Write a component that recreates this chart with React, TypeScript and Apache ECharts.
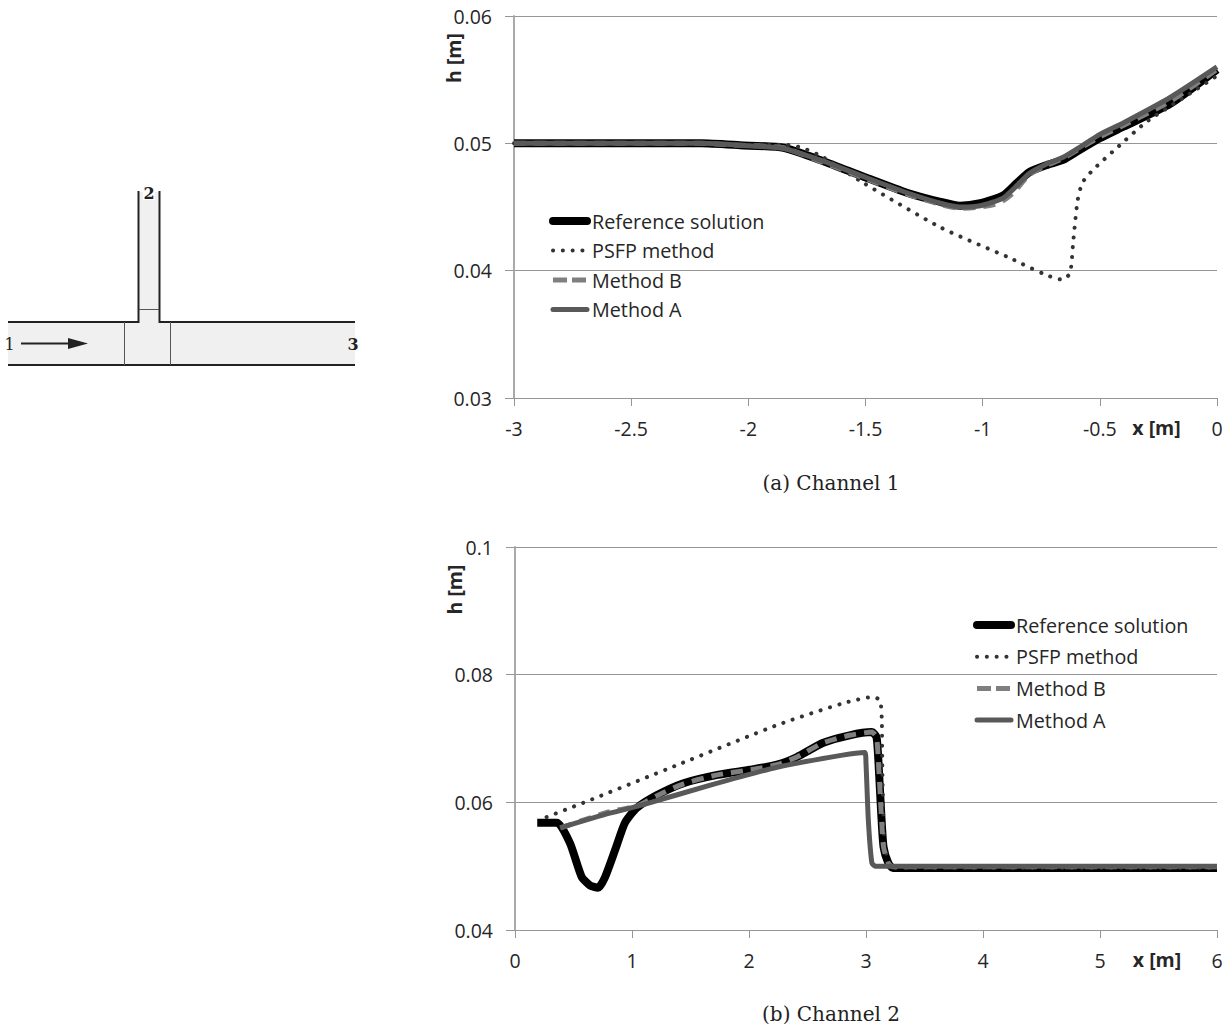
import React, { useEffect, useRef } from "react";
import * as echarts from "echarts";

const seriesNames = ["Reference solution", "PSFP method", "Method B", "Method A"];

const ch1Ref = [[-3, 0.05], [-2.5, 0.05], [-2.2, 0.05], [-2.035, 0.04985], [-1.85, 0.04965], [-1.68, 0.0486], [-1.51, 0.0474], [-1.32, 0.0461], [-1.18, 0.0454], [-1.097, 0.0451], [-1.01, 0.0453], [-0.913, 0.0459], [-0.853, 0.0469], [-0.8, 0.04775], [-0.725, 0.0483], [-0.657, 0.0487], [-0.585, 0.0495], [-0.5, 0.0504], [-0.4, 0.0513], [-0.2, 0.0531], [0, 0.0558]];
const ch1Psfp = [[-3, 0.05], [-2.5, 0.05], [-2.2, 0.05], [-2.035, 0.04985], [-1.85, 0.0499], [-1.77, 0.04965], [-1.68, 0.0489], [-1.51, 0.0469], [-1.18, 0.0434], [-0.896, 0.0411], [-0.66, 0.0393], [-0.627, 0.0398], [-0.614, 0.0422], [-0.606, 0.0437], [-0.595, 0.0455], [-0.575, 0.0469], [-0.53, 0.0479], [-0.43, 0.0496], [-0.3, 0.0517], [-0.15, 0.0535], [0, 0.0553]];
const ch1MethodB = [[-3, 0.05], [-2.5, 0.05], [-2.2, 0.05], [-2.035, 0.04985], [-1.85, 0.04965], [-1.68, 0.0485], [-1.51, 0.0473], [-1.32, 0.046], [-1.18, 0.0452], [-1.097, 0.0449], [-1.01, 0.045], [-0.93, 0.0453], [-0.87, 0.0461], [-0.8, 0.04755], [-0.725, 0.0483], [-0.657, 0.0488], [-0.585, 0.0496], [-0.5, 0.0505], [-0.4, 0.0514], [-0.2, 0.0533], [0, 0.0558]];
const ch1MethodA = [[-3, 0.05], [-2.5, 0.05], [-2.2, 0.05], [-2.035, 0.04985], [-1.85, 0.0496], [-1.68, 0.0486], [-1.51, 0.0474], [-1.32, 0.0461], [-1.18, 0.0453], [-1.097, 0.045], [-1.01, 0.0451], [-0.913, 0.0457], [-0.853, 0.0467], [-0.8, 0.04765], [-0.725, 0.0484], [-0.657, 0.0489], [-0.585, 0.0497], [-0.5, 0.0507], [-0.4, 0.0516], [-0.2, 0.0536], [0, 0.056]];

const ch2Ref = [[0.19, 0.0568], [0.36, 0.0568], [0.47, 0.0536], [0.57, 0.0483], [0.64, 0.047], [0.71, 0.0466], [0.77, 0.0483], [0.855, 0.0525], [0.94, 0.0568], [1.04, 0.0591], [1.21, 0.0611], [1.44, 0.063], [1.73, 0.0643], [2.01, 0.0651], [2.24, 0.0659], [2.41, 0.0671], [2.63, 0.0693], [2.86, 0.0705], [3.05, 0.071], [3.09, 0.0702], [3.11, 0.0651], [3.13, 0.0583], [3.15, 0.053], [3.19, 0.0505], [3.23, 0.0497], [4, 0.0497], [6, 0.0497]];
const ch2Psfp = [[0.27, 0.0577], [0.58, 0.0599], [1.38, 0.0658], [2.24, 0.0721], [2.8, 0.0755], [3.06, 0.0765], [3.12, 0.076], [3.135, 0.0729], [3.14, 0.0651], [3.155, 0.054], [3.19, 0.0505], [3.23, 0.0497], [4, 0.0497], [6, 0.0497]];
const ch2MethodB = [[0.39, 0.056], [0.8, 0.0585], [1.04, 0.0594], [1.21, 0.061], [1.44, 0.0629], [1.73, 0.0643], [2.01, 0.0651], [2.24, 0.0659], [2.41, 0.0671], [2.63, 0.0693], [2.86, 0.0705], [3.05, 0.071], [3.09, 0.0702], [3.11, 0.0651], [3.13, 0.0583], [3.15, 0.053], [3.19, 0.0505], [3.23, 0.0499], [4, 0.0499], [6, 0.0499]];
const ch2MethodA = [[0.385, 0.056], [0.81, 0.0583], [1.09, 0.0596], [1.67, 0.0627], [2.24, 0.0655], [2.8, 0.0674], [2.99, 0.0678], [3.0, 0.0661], [3.02, 0.0572], [3.05, 0.0505], [3.08, 0.05], [4, 0.05], [6, 0.05]];

const FONT = "Open Sans";
const TEXT = "#262626";
const GRIDC = "#969696";
const AXISC = "#aaaaaa";

const lineStyles = [
  { color: "#000000", width: 8, type: "solid", cap: "butt", join: "round" },
  { color: "#333333", width: 4, type: [0.1, 9.7], cap: "round", join: "round" },
  { color: "#7f7f7f", width: 5, type: [12, 8], cap: "butt", join: "round" },
  { color: "#595959", width: 5, type: "solid", cap: "butt", join: "round" },
];
const legendDash = [14, 5];

function makeSeries(index: number, data: number[][][]) {
  return seriesNames.map((name, i) => ({
    name,
    type: "line",
    xAxisIndex: index,
    yAxisIndex: index,
    data: data[i],
    showSymbol: false,
    symbol: "none",
    smooth: 0.2,
    itemStyle: { color: lineStyles[i].color },
    lineStyle: lineStyles[i],
    z: 2 + i,
  }));
}

function xAxis(gridIndex: number, min: number, max: number, interval: number) {
  return {
    type: "value",
    gridIndex,
    min,
    max,
    interval,
    name: "x [m]",
    nameLocation: "middle",
    nameGap: 19,
    nameMoveOverlap: false,
    nameTextStyle: { fontFamily: FONT, fontSize: 19.5, fontWeight: "bold", color: TEXT, padding: [0, 0, 0, 582] },
    axisLine: { show: true, onZero: false, lineStyle: { color: GRIDC, width: 1 } },
    axisTick: { show: true, length: 8, lineStyle: { color: GRIDC, width: 1 } },
    splitLine: { show: false },
    axisLabel: { fontFamily: FONT, fontSize: 19.5, color: TEXT, margin: 20, showMinLabel: true, showMaxLabel: true },
  };
}

function yAxis(gridIndex: number, min: number, max: number, interval: number) {
  return {
    type: "value",
    gridIndex,
    min,
    max,
    interval,
    name: "h [m]",
    nameLocation: "middle",
    nameRotate: 90,
    nameMoveOverlap: false,
    nameGap: 51,
    nameTextStyle: { fontFamily: FONT, fontSize: 19.5, fontWeight: "bold", color: TEXT, padding: [0, 0, 0, 298] },
    axisLine: { show: true, onZero: false, lineStyle: { color: AXISC, width: 2 } },
    axisTick: { show: true, length: 9, lineStyle: { color: GRIDC, width: 1 } },
    splitLine: { show: true, lineStyle: { color: GRIDC, width: 1 } },
    axisLabel: { fontFamily: FONT, fontSize: 19.5, color: TEXT, margin: 22, padding: [0, 0, 6, 0] },
  };
}

function legend(left: number, top: number, itemGap: number) {
  return {
    orient: "vertical",
    left,
    top,
    itemWidth: 34,
    itemHeight: 14,
    itemGap,
    padding: 0,
    selectedMode: false,
    data: seriesNames.map((name, i) => ({
      name,
      itemStyle: { opacity: 0 },
      lineStyle: { ...lineStyles[i], cap: i === 2 ? "butt" : "round", type: i === 2 ? legendDash : lineStyles[i].type },
    })),
    textStyle: { fontFamily: FONT, fontSize: 19.75, lineHeight: 20, color: TEXT },
  };
}

const ink = { stroke: "#222222", lineWidth: 2 };
const thin = { stroke: "#555555", lineWidth: 1 };
const labelStyle = { fontFamily: "DejaVu Serif", fontSize: 16, fill: "#222222", align: "center", verticalAlign: "middle" };

const diagram = [
  { type: "polygon", silent: true, shape: { points: [[8, 322], [138, 322], [138, 192], [160, 192], [160, 322], [355, 322], [355, 365], [8, 365]] }, style: { fill: "#f0f0f0", stroke: "none" } },
  { type: "line", shape: { x1: 8, y1: 322, x2: 139, y2: 322 }, style: ink },
  { type: "line", shape: { x1: 159, y1: 322, x2: 355, y2: 322 }, style: ink },
  { type: "line", shape: { x1: 8, y1: 365, x2: 355, y2: 365 }, style: ink },
  { type: "line", shape: { x1: 138.5, y1: 191, x2: 138.5, y2: 323 }, style: ink },
  { type: "line", shape: { x1: 159.5, y1: 191, x2: 159.5, y2: 323 }, style: ink },
  { type: "line", shape: { x1: 124.5, y1: 322, x2: 124.5, y2: 365 }, style: thin },
  { type: "line", shape: { x1: 170.5, y1: 322, x2: 170.5, y2: 365 }, style: thin },
  { type: "line", shape: { x1: 139, y1: 309.5, x2: 159, y2: 309.5 }, style: thin },
  { type: "line", shape: { x1: 21, y1: 343.5, x2: 70, y2: 343.5 }, style: ink },
  { type: "polygon", shape: { points: [[68, 338], [88, 343.5], [68, 349]] }, style: { fill: "#222222" } },
  { type: "rect", shape: { x: 143, y: 186, width: 12, height: 14 }, style: { fill: "#ffffff" } },
  { type: "text", x: 9.5, y: 344, style: { ...labelStyle, text: "1" } },
  { type: "text", x: 149, y: 193, style: { ...labelStyle, text: "2", fontWeight: "bold" } },
  { type: "text", x: 353, y: 344, style: { ...labelStyle, text: "3", fontWeight: "bold" } },
];

const captionStyle = { fontFamily: "DejaVu Serif", fontSize: 20, fontWeight: "normal", color: "#222222" };

export default function App() {
  const ref = useRef<HTMLDivElement>(null);
  useEffect(() => {
    const chart = echarts.init(ref.current!, undefined, { renderer: "svg" });
    chart.setOption({
      animation: false,
      backgroundColor: "#ffffff",
      title: [
        { text: "(a) Channel 1", left: 831, top: 473, textAlign: "center", padding: 0, textStyle: captionStyle },
        { text: "(b) Channel 2", left: 831, top: 1004, textAlign: "center", padding: 0, textStyle: captionStyle },
      ],
      grid: [
        { left: 514, top: 16, width: 703, height: 382 },
        { left: 515, top: 547, width: 702, height: 383 },
      ],
      xAxis: [xAxis(0, -3, 0, 0.5), xAxis(1, 0, 6, 1)],
      yAxis: [yAxis(0, 0.03, 0.06, 0.01), yAxis(1, 0.04, 0.1, 0.02)],
      legend: [legend(549, 211, 9.5), legend(973, 615, 11.7)],
      series: [
        ...makeSeries(0, [ch1Ref, ch1Psfp, ch1MethodB, ch1MethodA]),
        ...makeSeries(1, [ch2Ref, ch2Psfp, ch2MethodB, ch2MethodA]),
      ],
      graphic: diagram,
    });
    return () => chart.dispose();
  }, []);
  return <div ref={ref} style={{ position: "absolute", left: 0, top: 0, width: 1232, height: 1030 }} />;
}
